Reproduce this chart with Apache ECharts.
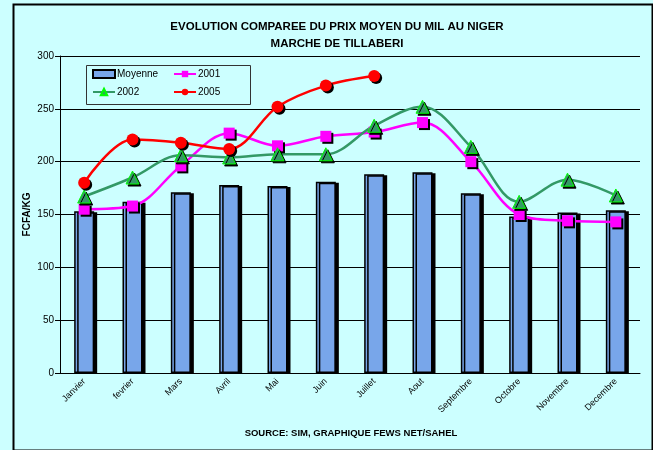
<!DOCTYPE html>
<html>
<head>
<meta charset="utf-8">
<script src="https://cdn.jsdelivr.net/npm/echarts@6/dist/echarts.min.js"></script>
<style>
  html, body { margin: 0; padding: 0; background: #ccffff; }
  #chart { width: 653px; height: 450px; }
</style>
</head>
<body>
<div id="chart"></div>
<script>
// données
const mois = ['Janvier', 'fevrier', 'Mars', 'Avril', 'Mai', 'Juin', 'Juillet', 'Aout', 'Septembre', 'Octobre', 'Novembre', 'Decembre']
const moyenne = [153, 162, 171, 178, 177, 181, 188, 190, 170, 148, 152, 154]
const prix2001 = [155, 158, 196, 227, 215, 224, 228, 237, 200, 150, 144, 143]
const prix2002 = [167, 185, 206, 204, 207, 207, 234, 252, 214, 162, 183, 168]
const prix2005 = [180, 221, 218, 212, 252, 272, 281]
const yTicks = [0, 50, 100, 150, 200, 250, 300]

const FONT = 'Liberation Sans, Arial'

const chart = echarts.init(document.getElementById('chart'))
const shadow = { shadowColor: '#000', shadowBlur: 0, shadowOffsetX: 2, shadowOffsetY: 2 }

function legendAt(name, left, top, icon) {
  const lg = {
    data: [name], left: left, top: top, itemWidth: 22, itemHeight: 8, itemGap: 2,
    textStyle: { fontFamily: FONT, fontSize: 10, color: '#000', padding: [0, 0, 0, -3] },
    selectedMode: false
  }
  if (icon) lg.icon = icon
  return lg
}

chart.setOption({
  backgroundColor: '#ccffff',
  animation: false,
  title: {
    text: 'EVOLUTION COMPAREE DU PRIX MOYEN DU MIL AU NIGER\nMARCHE DE TILLABERI',
    left: 332, top: 13, textAlign: 'center',
    textStyle: { fontFamily: FONT, fontSize: 11.5, fontWeight: 'bold', color: '#000', lineHeight: 17 }
  },
  legend: [
    legendAt('Moyenne', 87, 64, 'rect'),
    legendAt('2001', 168, 64),
    legendAt('2002', 87, 82),
    legendAt('2005', 168, 82)
  ],
  grid: { left: 60, right: 13, top: 56, bottom: 77 },
  xAxis: {
    type: 'category',
    data: mois,
    axisLine: { lineStyle: { color: '#000', width: 1 } },
    axisTick: { length: 4, lineStyle: { color: '#000' } },
    axisLabel: { rotate: 45, fontFamily: FONT, fontSize: 9, color: '#000', margin: 7 }
  },
  yAxis: {
    type: 'value', min: yTicks[0], max: yTicks[yTicks.length - 1], interval: 50,
    name: 'FCFA/KG', nameLocation: 'middle', nameGap: 28, nameMoveOverlap: false,
    nameTextStyle: { fontFamily: FONT, fontSize: 10, fontWeight: 'bold', color: '#000' },
    axisLine: { show: true, lineStyle: { color: '#000' } },
    axisTick: { show: true, length: 5, lineStyle: { color: '#000' } },
    axisLabel: { fontFamily: FONT, fontSize: 10, color: '#000', margin: 6 },
    splitLine: { lineStyle: { color: '#000', width: 1 } }
  },
  series: [
    {
      name: 'Moyenne', type: 'bar', data: moyenne, barWidth: 20,
      itemStyle: {
        color: '#78a6ea',
        borderColor: '#000', borderWidth: 1.5,
        shadowColor: '#000', shadowBlur: 0, shadowOffsetX: 3, shadowOffsetY: 1
      }
    },
    {
      name: '2001', type: 'line', data: prix2001, smooth: 0.35,
      symbol: 'rect', symbolSize: 11,
      lineStyle: { color: '#ff00ff', width: 2.5 },
      itemStyle: Object.assign({ color: '#ff00ff' }, shadow)
    },
    {
      name: '2002', type: 'line', data: prix2002, smooth: 0.35,
      symbol: 'triangle', symbolSize: 13,
      lineStyle: { color: '#339966', width: 2.5 },
      itemStyle: Object.assign({ color: '#339966', borderColor: '#00ff00', borderWidth: 1 }, shadow)
    },
    {
      name: '2005', type: 'line', data: prix2005, smooth: 0.35,
      symbol: 'circle', symbolSize: 12,
      lineStyle: { color: '#ff0000', width: 2.5 },
      itemStyle: Object.assign({ color: '#ff0000' }, shadow)
    }
  ],
  graphic: [
    {
      type: 'rect', left: 11, top: 2, silent: true,
      shape: { width: 639, height: 446 },
      style: { fill: null, stroke: '#000', lineWidth: 2 }
    },
    {
      type: 'rect', left: 84, top: 63, silent: true,
      shape: { width: 164, height: 39 },
      style: { fill: null, stroke: '#333', lineWidth: 1 }
    },
    {
      type: 'text', x: 351, y: 428, silent: true,
      style: { text: 'SOURCE: SIM, GRAPHIQUE FEWS NET/SAHEL', align: 'center', fontFamily: FONT, fontSize: 9.5, fontWeight: 'bold', fill: '#000' }
    }
  ]
})
</script>
</body>
</html>
